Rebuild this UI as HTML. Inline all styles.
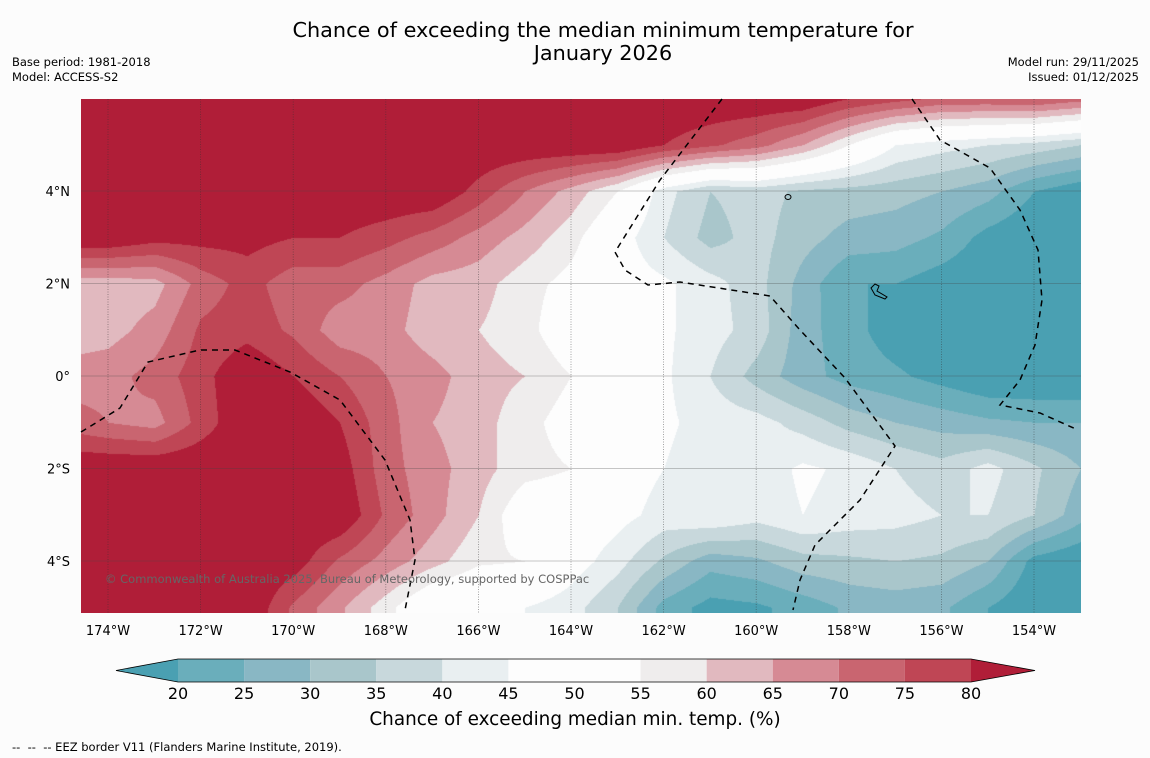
<!DOCTYPE html>
<html><head><meta charset="utf-8">
<style>
html,body{margin:0;padding:0;background:#fcfcfc;width:1150px;height:758px;overflow:hidden;font-family:"DejaVu Sans","Liberation Sans",sans-serif;}
#wrap{position:relative;width:1150px;height:758px;}
.t{position:absolute;color:#000;white-space:nowrap;}
</style></head>
<body>
<div id="wrap">
<div class="t" style="left:0;width:1206px;top:19px;text-align:center;font-size:20.8px;line-height:23px;">Chance of exceeding the median minimum temperature for<br>January 2026</div>
<div class="t" style="left:12px;top:55px;font-size:11.5px;line-height:15px;">Base period: 1981-2018<br>Model: ACCESS-S2</div>
<div class="t" style="right:11px;top:55px;font-size:11.5px;line-height:15px;text-align:right;">Model run: 29/11/2025<br>Issued: 01/12/2025</div>
<canvas id="map" width="1000" height="514" style="position:absolute;left:81px;top:99px;"></canvas>
<svg id="ov" width="1150" height="758" style="position:absolute;left:0;top:0;"></svg>
<div class="t" style="left:105px;top:572px;font-size:11.5px;color:#666;">© Commonwealth of Australia 2025, Bureau of Meteorology, supported by COSPPac</div>
<div class="t" style="left:0;width:1150px;top:709px;text-align:center;font-size:18.4px;">Chance of exceeding median min. temp. (%)</div>
<div class="t" style="left:12px;top:740px;font-size:11.5px;">--&nbsp; --&nbsp; -- EEZ border V11 (Flanders Marine Institute, 2019).</div>
</div>
<script>
const lons=[-175,-174,-173,-172,-171,-170,-169,-168,-167,-166,-165,-164,-163,-162,-161,-160,-159,-158,-157,-156,-155,-154,-153];
const lats=[6,5,4,3,2,1,0,-1,-2,-3,-4,-5];
const probGrid=[
[85,85,85,85,85,85,85,85,85,85,85,85,85,85,85,85,85,80,77,74,74,75,72],
[85,85,85,85,85,85,85,85,85,85,85,85,85,80,76,72,65,55,45,42,40,38,35],
[85,85,85,85,85,85,85,85,85,78,70,63,55,42,35,37,34,33,32,30,27,20,16],
[85,85,82,82,82,80,80,77,73,68,63,57,48,40,33,37,32,28,27,24,18,15,15],
[62,62,63,72,77,72,72,68,63,62,57,53,48,46,42,37,28,20,20,17,15,15,15],
[62,63,67,76,78,74,67,67,62,60,57,50,48,46,42,38,27,22,17,15,15,15,15],
[67,68,72,78,85,80,75,70,67,62,60,55,48,46,40,33,27,23,21,18,15,15,15],
[73,70,68,77,85,85,80,72,65,62,57,52,48,46,43,42,38,33,30,28,26,25,25],
[85,85,85,85,85,85,83,72,67,62,57,55,48,45,42,42,46,44,40,37,42,36,30],
[85,85,85,85,85,85,85,74,67,60,50,50,47,43,45,42,45,43,42,40,40,35,27],
[85,85,85,85,85,83,74,68,62,56,55,48,42,34,27,29,33,34,35,34,30,18,15],
[85,85,85,85,85,74,66,57,47,45,45,42,35,23,18,19,22,26,27,26,20,15,15]
];
const levels=[20,25,30,35,40,45,50,55,60,65,70,75,80];
const levelColors=["#4aa0b2","#6aaebb","#89b7c4","#a9c6cb","#c8d8dc","#e9eff1","#fdfdfd","#fdfdfd","#efeded","#e1b9bf","#d68a94","#c96570","#bf4655","#b01e38"];
const lonTicks=[-174,-172,-170,-168,-166,-164,-162,-160,-158,-156,-154];
const latTicks=[4,2,0,-2,-4];

const xOf=lon=>108+(lon+174)*46.3;
const yOf=lat=>376-lat*46.25;
const cbX=v=>178+(v-20)*(971-178)/60;
function hex(c){return [parseInt(c.substr(1,2),16),parseInt(c.substr(3,2),16),parseInt(c.substr(5,2),16)];}
const rgbCols=levelColors.map(hex);

const cv=document.getElementById('map');const ctx=cv.getContext('2d');
const img=ctx.createImageData(1000,514);
for(let py=0;py<514;py++){
  const lat=(376-(py+99))/46.25;
  let fj=(lats[0]-lat);fj=Math.max(0,Math.min(lats.length-1.0001,fj));
  const j=Math.floor(fj),tj=fj-j;
  for(let px=0;px<1000;px++){
    const lon=-174+((px+81)-108)/46.3;
    let fi=lon-lons[0];fi=Math.max(0,Math.min(lons.length-1.0001,fi));
    const i=Math.floor(fi),ti=fi-i;
    const v=(probGrid[j][i]*(1-ti)+probGrid[j][i+1]*ti)*(1-tj)+(probGrid[j+1][i]*(1-ti)+probGrid[j+1][i+1]*ti)*tj;
    let k=0;while(k<levels.length&&v>=levels[k])k++;
    const c=rgbCols[k];const o=(py*1000+px)*4;
    img.data[o]=c[0];img.data[o+1]=c[1];img.data[o+2]=c[2];img.data[o+3]=255;
  }
}
ctx.putImageData(img,0,0);

const NS='http://www.w3.org/2000/svg';
const ov=document.getElementById('ov');
const FF='DejaVu Sans, Liberation Sans, sans-serif';
function mk(tag,attrs,parent){const e=document.createElementNS(NS,tag);for(const k in attrs)e.setAttribute(k,attrs[k]);(parent||ov).appendChild(e);return e;}

lonTicks.forEach(lon=>{
  const x=xOf(lon);
  const l=mk('line',{x1:x,x2:x,y1:99,y2:613,stroke:'#333','stroke-opacity':0.55,'stroke-width':0.8,'stroke-dasharray':'1,1.5'});
  
  
  const t=mk('text',{x:x,y:635,'text-anchor':'middle','font-size':13,'font-family':FF});
  t.textContent=Math.abs(lon)+'°W';
  
  
});
latTicks.forEach(lat=>{
  const y=yOf(lat);
  const l=mk('line',{x1:81,x2:1081,y1:y,y2:y,stroke:'#444','stroke-opacity':0.4,'stroke-width':0.8});
  
  
  const t=mk('text',{x:70,y:y+5,'text-anchor':'end','font-size':13,'font-family':FF});
  t.textContent=lat===0?'0°':Math.abs(lat)+'°'+(lat>0?'N':'S');
  
  
});

const eez=[
"M81,432 L120,408 L148,362 L200,350 L235,350 L290,372 L340,400 L385,460 L410,520 L415,560 L405,610",
"M722,99 L660,180 L615,252 L625,270 L648,285 L680,282 L770,296 L800,330 L845,378 L895,446 L860,500 L840,520 L815,545 L800,580 L793,610",
"M912,99 L940,140 L990,168 L1020,210 L1038,250 L1042,300 L1035,345 L1020,380 L1000,405 L1040,413 L1078,430"];
eez.forEach(d=>{
  const p=mk('path',{d:d,fill:'none',stroke:'#000','stroke-width':1.5,'stroke-dasharray':'6,5'});
  
  
});
const isl=mk('path',{d:"M871,288 l4,-4 l4,2 l-2,5 l10,6 l-2,2 l-10,-4 z",fill:'none',stroke:'#000','stroke-width':1});


const isl2=mk('ellipse',{cx:788,cy:197,rx:3,ry:2.5,fill:'none',stroke:'#000','stroke-width':1});



const cb=mk('g',{});


for(let k=0;k<levels.length-1;k++){
  const r=mk('rect',{x:cbX(levels[k]),y:659,width:cbX(levels[k+1])-cbX(levels[k]),height:23,fill:levelColors[k+1]},cb);
  
  
}
const lt=mk('polygon',{points:`116,670.5 ${cbX(20)},659 ${cbX(20)},682`,fill:levelColors[0]},cb);


const rt=mk('polygon',{points:`1035,670.5 ${cbX(80)},659 ${cbX(80)},682`,fill:levelColors[13]},cb);


const ol=mk('polygon',{points:`116,670.5 ${cbX(20)},659 ${cbX(80)},659 1035,670.5 ${cbX(80)},682 ${cbX(20)},682`,fill:'none',stroke:'#000','stroke-width':0.8},cb);


levels.forEach(v=>{
  const t=mk('text',{x:cbX(v),y:699,'text-anchor':'middle','font-size':16,'font-family':FF},cb);
  t.textContent=v;
  
  
});
</script>
</body></html>
